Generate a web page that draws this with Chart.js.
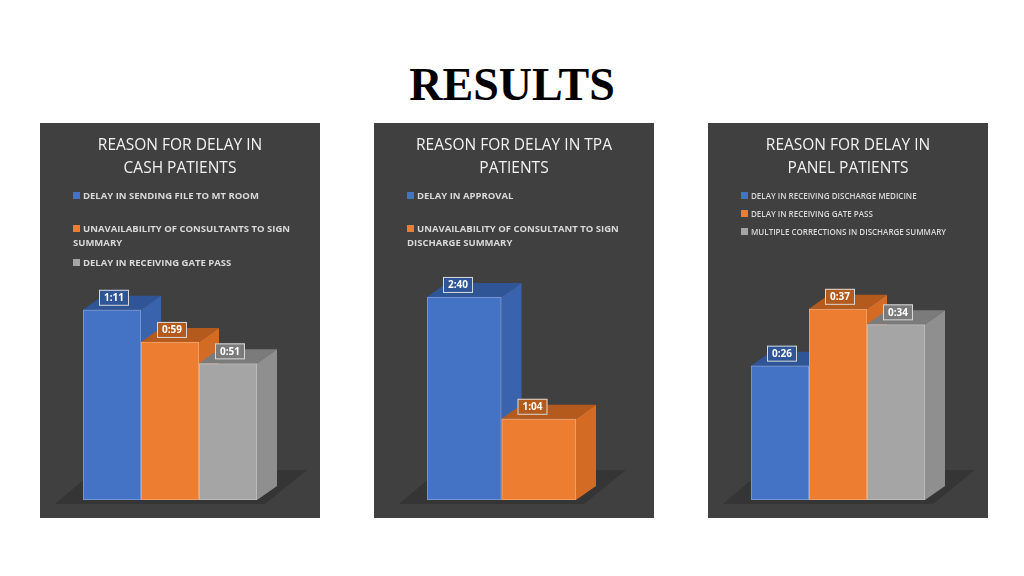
<!DOCTYPE html>
<html><head><meta charset="utf-8">
<script src="https://cdn.jsdelivr.net/npm/chart.js@4.4.1/dist/chart.umd.min.js"></script>
<style>
body{margin:0;width:1024px;height:576px;background:#fff;position:relative;overflow:hidden;font-family:"Open Sans",sans-serif}
h1{position:absolute;top:58px;left:0;width:1024px;text-align:center;margin:0;font:bold 46px "Liberation Serif",serif;color:#000}
.panel{position:absolute;top:123px;width:280px;height:395px;background:#404040}
.panel canvas{position:absolute;left:0;top:0}
.ttl{position:absolute;top:10px;left:0;width:100%;text-align:center;color:#f2f2f2;font-size:15.5px;line-height:23px}
.leg{position:absolute;left:33px;right:20px;color:#d9d9d9;font-size:9.5px;font-weight:bold;line-height:14px}
.leg i{display:inline-block;width:7px;height:7px;margin-right:3px}
</style></head><body>
<h1>RESULTS</h1>
<div id="wrap"></div>
<script>
const panelTitles = ["REASON FOR DELAY IN<br>CASH PATIENTS", "REASON FOR DELAY IN TPA<br>PATIENTS", "REASON FOR DELAY IN<br>PANEL PATIENTS"];
const cashLabels = ["DELAY IN SENDING FILE TO MT ROOM", "UNAVAILABILITY OF CONSULTANTS TO SIGN SUMMARY", "DELAY IN RECEIVING GATE PASS"];
const cashValues = [71, 59, 51];
const tpaLabels = ["DELAY IN APPROVAL", "UNAVAILABILITY OF CONSULTANT TO SIGN DISCHARGE SUMMARY"];
const tpaValues = [160, 64];
const panelLabels = ["DELAY IN RECEIVING DISCHARGE MEDICINE", "DELAY IN RECEIVING GATE PASS", "MULTIPLE CORRECTIONS IN DISCHARGE SUMMARY"];
const panelValues = [26, 37, 34];

const colors = [["#4472c4", "#2f5597", "#3a63ad"], ["#ed7d31", "#b45a1c", "#d46b25"], ["#a5a5a5", "#7b7b7b", "#8f8f8f"]];
const fmt = v => Math.floor(v / 60) + ":" + String(v % 60).padStart(2, "0");

const panels = [
  {left: 40, labels: cashLabels, values: cashValues, max: 81, pad: {left: 43, right: 63}, legTops: [66, 99, 133], small: false},
  {left: 374, labels: tpaLabels, values: tpaValues, max: 171, pad: {left: 53, right: 78}, legTops: [66, 99], small: false},
  {left: 708, labels: panelLabels, values: panelValues, max: 42, pad: {left: 43, right: 63}, legTops: [66, 84, 102], small: true}
];

const depth = {dx: 20, dy: -14};
const bars3d = {
  id: "bars3d",
  afterDatasetsDraw(chart) {
    const c = chart.ctx, els = chart.getDatasetMeta(0).data, a = chart.chartArea;
    const vals = chart.data.datasets[0].data;
    // floor
    c.save();
    c.fillStyle = "#353535";
    c.beginPath();
    c.moveTo(a.left - 28, a.bottom + 4); c.lineTo(a.right + 8, a.bottom + 4);
    c.lineTo(a.right + 50, a.bottom - 30); c.lineTo(a.left + 12, a.bottom - 30);
    c.closePath(); c.fill();
    els.forEach((e, i) => {
      const x0 = e.x - e.width / 2, x1 = e.x + e.width / 2, y = e.y, b = e.base;
      const col = colors[i];
      c.fillStyle = col[1];
      c.beginPath();
      c.moveTo(x0, y); c.lineTo(x0 + depth.dx, y + depth.dy); c.lineTo(x1 + depth.dx, y + depth.dy); c.lineTo(x1, y); c.fill();
      c.fillStyle = col[2];
      c.beginPath();
      c.moveTo(x1, y); c.lineTo(x1 + depth.dx, y + depth.dy); c.lineTo(x1 + depth.dx, b + depth.dy); c.lineTo(x1, b); c.fill();
      c.fillStyle = col[0];
      c.fillRect(x0, y, x1 - x0, b - y);
      c.strokeStyle = "rgba(255,255,255,0.25)";
      c.strokeRect(x0 + 0.5, y + 0.5, x1 - x0 - 1, b - y - 1);
    });
    els.forEach((e, i) => {
      const t = fmt(vals[i]);
      c.font = "bold 10px 'Open Sans'";
      const w = c.measureText(t).width + 10, lx = e.x - e.width / 2 + 16, ly = e.y - 20;
      c.fillStyle = colors[i][1];
      c.fillRect(lx, ly, w, 16);
      c.strokeStyle = "#d9d9d9"; c.strokeRect(lx + 0.5, ly + 0.5, w - 1, 15);
      c.fillStyle = "#fff"; c.textBaseline = "middle";
      c.fillText(t, lx + 5, ly + 8.5);
    });
    c.restore();
  }
};

const wrap = document.getElementById("wrap");
panels.forEach((p, k) => {
  const d = document.createElement("div");
  d.className = "panel"; d.style.left = p.left + "px";
  let html = '<canvas width="280" height="395"></canvas><div class="ttl">' + panelTitles[k] + "</div>";
  p.labels.forEach((l, i) => {
    html += '<div class="leg" style="top:' + p.legTops[i] + 'px;' + (p.small ? "font-size:8px;font-weight:600" : "") + '"><i style="background:' + colors[i][0] + '"></i>' + l + "</div>";
  });
  d.innerHTML = html;
  wrap.appendChild(d);
  new Chart(d.querySelector("canvas"), {
    type: "bar",
    data: {labels: p.labels, datasets: [{data: p.values, backgroundColor: "rgba(0,0,0,0)", categoryPercentage: 1, barPercentage: 1}]},
    options: {
      responsive: false, animation: false,
      layout: {padding: {top: 160, bottom: 18, left: p.pad.left, right: p.pad.right}},
      scales: {x: {display: false}, y: {display: false, min: 0, max: p.max}},
      plugins: {legend: {display: false}, tooltip: {enabled: false}}
    },
    plugins: [bars3d]
  });
});
</script>
</body></html>
